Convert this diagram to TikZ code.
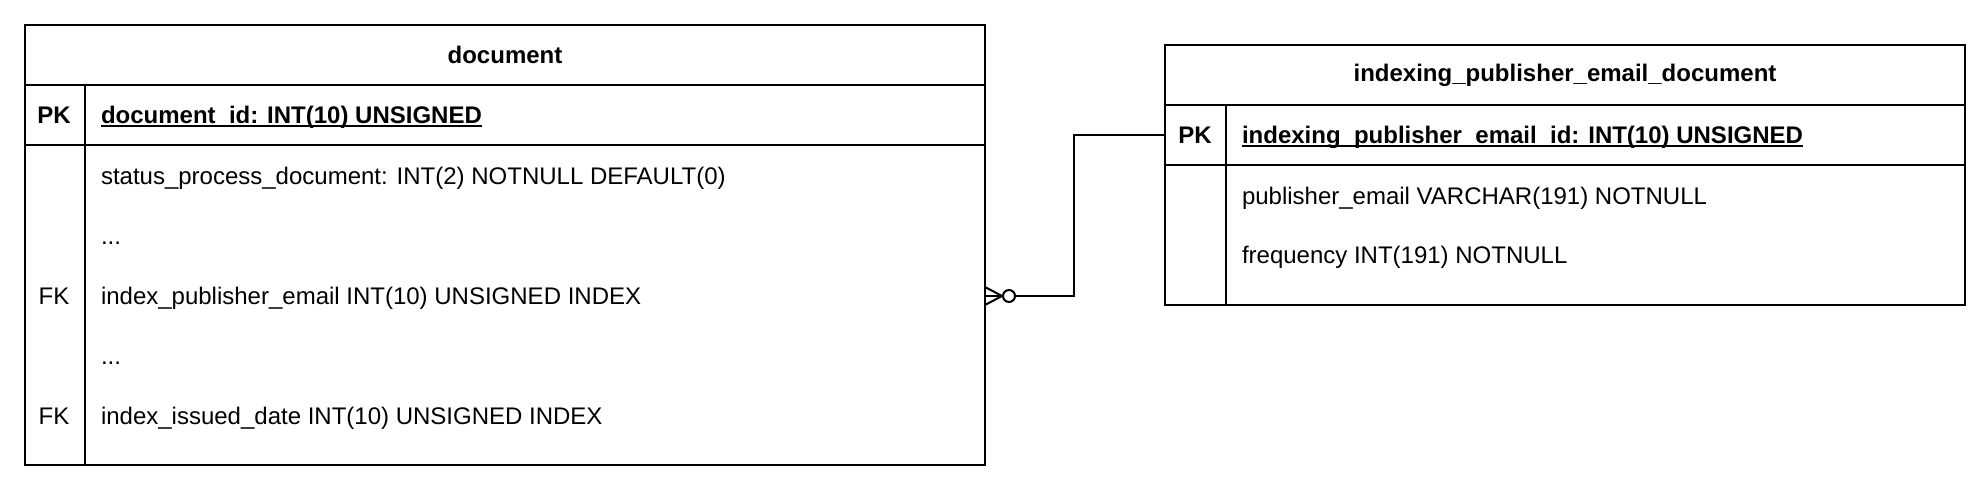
\documentclass[tikz,border=0pt]{standalone}
\usepackage{fontspec}
\setmainfont{Liberation Sans}

\tikzset{
  tblname/.style={inner sep=0pt, font=\fontsize{24}{28}\selectfont\bfseries},
  keytag/.style={inner sep=0pt, text height=17pt, text depth=0pt, font=\fontsize{24}{28}\selectfont},
  field/.style={anchor=west, inner sep=0pt, text height=17pt, text depth=0pt, font=\fontsize{24}{28}\selectfont},
}
\newcommand{\pkfield}[1]{\setbox0\hbox{\bfseries #1}\rlap{\rule[-4pt]{\wd0}{2pt}}\box0}

\begin{document}
\begin{tikzpicture}[x=1pt, y=-1pt, line width=2pt]
  \useasboundingbox (0,0) rectangle (1982,484);
  % table document
  \draw (25,25) rectangle (985,465);
  \draw (25,85) -- (985,85);
  \draw (25,145) -- (985,145);
  \draw (85,85) -- (85,465);
  \node[tblname] (docname) at (505,55) {document};
  \node[keytag, font=\fontsize{24}{28}\selectfont\bfseries] (docpk) at (54,115) {PK};
  \node[field] (docid) at (100,115) {\pkfield{document\_id: INT(10) UNSIGNED}};
  \node[field] (status) at (100,176) {status\_process\_document: INT(2) NOTNULL DEFAULT(0)};
  \node[field] (dotsa) at (100,236) {...};
  \node[keytag] (fka) at (54,296) {FK};
  \node[field] (pubmail) at (100,296) {index\_publisher\_email INT(10) UNSIGNED INDEX};
  \node[field] (dotsb) at (100,356) {...};
  \node[keytag] (fkb) at (54,416) {FK};
  \node[field] (issued) at (100,416) {index\_issued\_date INT(10) UNSIGNED INDEX};
  \coordinate (docout) at (985,296);

  % table indexing_publisher_email_document
  \draw (1165,45) rectangle (1965,305);
  \draw (1165,105) -- (1965,105);
  \draw (1165,165) -- (1965,165);
  \draw (1226,105) -- (1226,305);
  \node[tblname] (ipename) at (1565,75) {indexing\_publisher\_email\_document};
  \node[keytag, font=\fontsize{24}{28}\selectfont\bfseries] (ipepk) at (1195,135) {PK};
  \node[field] (ipeid) at (1241,135) {\pkfield{indexing\_publisher\_email\_id: INT(10) UNSIGNED}};
  \node[field] (ipemail) at (1241,196) {publisher\_email VARCHAR(191) NOTNULL};
  \node[field] (ipefreq) at (1241,255) {frequency INT(191) NOTNULL};
  \coordinate (ipein) at (1165,135);

  % zero-or-many relation
  \coordinate (crow) at (1002,296);
  \draw (docout) -- (crow);
  \draw ([yshift=-9pt]docout) -- (crow) -- ([yshift=9pt]docout);
  \draw (1009,296) circle (6);
  \draw (1015,296) -- (1074,296) |- (ipein);
\end{tikzpicture}
\end{document}
